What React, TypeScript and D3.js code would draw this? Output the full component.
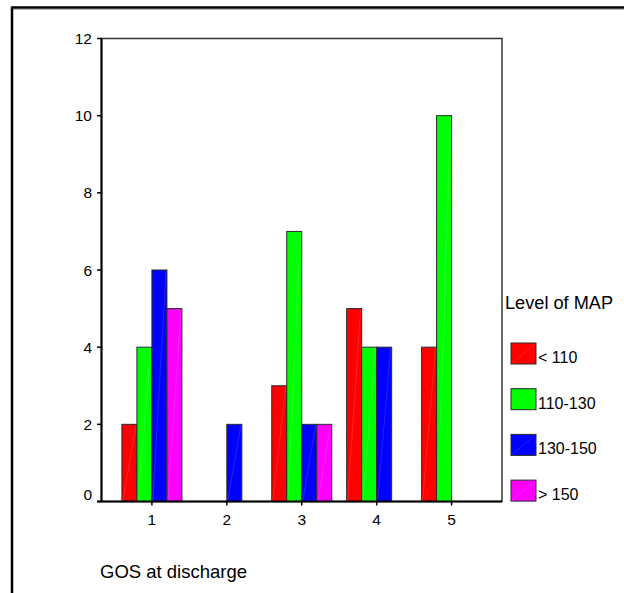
import React from "react";
import * as d3 from "d3";

const categories = ["1", "2", "3", "4", "5"];
const seriesNames = ["< 110", "110-130", "130-150", "> 150"];
const seriesColors = ["#ff0000", "#00ff00", "#0000ff", "#ff00ff"];
const valuesLt110 = [2, 0, 3, 5, 4];
const values110to130 = [4, 0, 7, 4, 10];
const values130to150 = [6, 2, 2, 4, 0];
const valuesGt150 = [5, 0, 2, 0, 0];
const yTicks = [0, 2, 4, 6, 8, 10, 12];
const xTitle = "GOS at discharge";
const legendTitle = "Level of MAP";

const W = 624;
const H = 593;
const FONT = "'Liberation Sans', Arial, Helvetica, sans-serif";

export default function App() {
  const series = [valuesLt110, values110to130, values130to150, valuesGt150];
  const left = 101.5, right = 502, top = 38.5, bottom = 501.5;
  const x = d3.scalePoint<string>().domain(categories).range([left, right]).padding(0.673);
  const inner = d3.scaleBand<number>().domain([0, 1, 2, 3]).range([-30, 30]).padding(0);
  const y = d3.scaleLinear().domain([0, 12]).range([bottom, top]);

  const bars: React.ReactNode[] = [];
  categories.forEach((c, ci) => {
    series.forEach((vals, si) => {
      const v = vals[ci];
      if (!v) return;
      const bx = (x(c) as number) + (inner(si) as number);
      const bw = inner.bandwidth();
      const by = y(v);
      const bh = y(0) - y(v);
      bars.push(
        <g key={`${ci}-${si}`}>
          <rect x={bx} y={by} width={bw} height={bh} fill={seriesColors[si]} stroke="#2a2a2a" strokeWidth={1} />
          <line x1={bx + 1} y1={y(0) - 1} x2={bx + bw - 1} y2={by + 1} stroke="#ffffff" strokeOpacity={0.2} strokeWidth={0.7} />
        </g>
      );
    });
  });

  const legendX = 511;
  const legendTops = seriesNames.map((_, i) => 343 + i * 45.7);

  return (
    <svg width={W} height={H} style={{ position: "absolute", left: 0, top: 0, background: "#fff" }}>
      <rect x={0} y={0} width={W} height={H} fill="#fff" />
      {/* outer frame */}
      <line x1={12} y1={7.5} x2={W} y2={7.5} stroke="#000" strokeWidth={2.5} />
      <line x1={12} y1={9.5} x2={W} y2={9.5} stroke="#bbb" strokeWidth={1} />
      <line x1={12} y1={6.5} x2={12} y2={H} stroke="#000" strokeWidth={2.5} />

      {/* plot frame */}
      <rect x={left} y={top} width={right - left} height={bottom - top} fill="none" stroke="#333" strokeWidth={1.5} />

      {bars}

      {/* axes */}
      <line x1={left} y1={top} x2={left} y2={bottom} stroke="#000" strokeWidth={2} />
      <line x1={97} y1={bottom} x2={right} y2={bottom} stroke="#000" strokeWidth={2} />
      {yTicks.map((t) => (
        <g key={`yt${t}`}>
          <line x1={97} y1={y(t)} x2={left} y2={y(t)} stroke="#000" strokeWidth={1.5} />
          <text
            x={92}
            y={t === 0 ? y(t) - 7 : y(t)}
            textAnchor="end"
            dominantBaseline="central"
            fontFamily={FONT}
            fontSize={15.5}
            fill="#000"
          >
            {t}
          </text>
        </g>
      ))}
      {categories.map((c) => (
        <g key={`xt${c}`}>
          <line x1={x(c) as number} y1={bottom} x2={x(c) as number} y2={bottom + 4} stroke="#000" strokeWidth={1.5} />
          <text x={x(c) as number} y={525} textAnchor="middle" fontFamily={FONT} fontSize={15.5} fill="#000">
            {c}
          </text>
        </g>
      ))}

      <text x={100} y={578} fontFamily={FONT} fontSize={19} fill="#000" textLength={147} lengthAdjust="spacingAndGlyphs">
        {xTitle}
      </text>

      {/* legend */}
      <text x={505} y={309} fontFamily={FONT} fontSize={17.5} fill="#000" textLength={108} lengthAdjust="spacingAndGlyphs">
        {legendTitle}
      </text>
      {seriesNames.map((n, i) => (
        <g key={`lg${i}`}>
          <rect x={legendX} y={legendTops[i]} width={25} height={21} fill={seriesColors[i]} stroke="#2a2a2a" strokeWidth={1} />
          <line x1={legendX + 1} y1={legendTops[i] + 20} x2={legendX + 24} y2={legendTops[i] + 1} stroke="#fff" strokeOpacity={0.2} strokeWidth={0.7} />
          <text x={538} y={legendTops[i] + 20} fontFamily={FONT} fontSize={16} fill="#000">
            {n}
          </text>
        </g>
      ))}
    </svg>
  );
}
